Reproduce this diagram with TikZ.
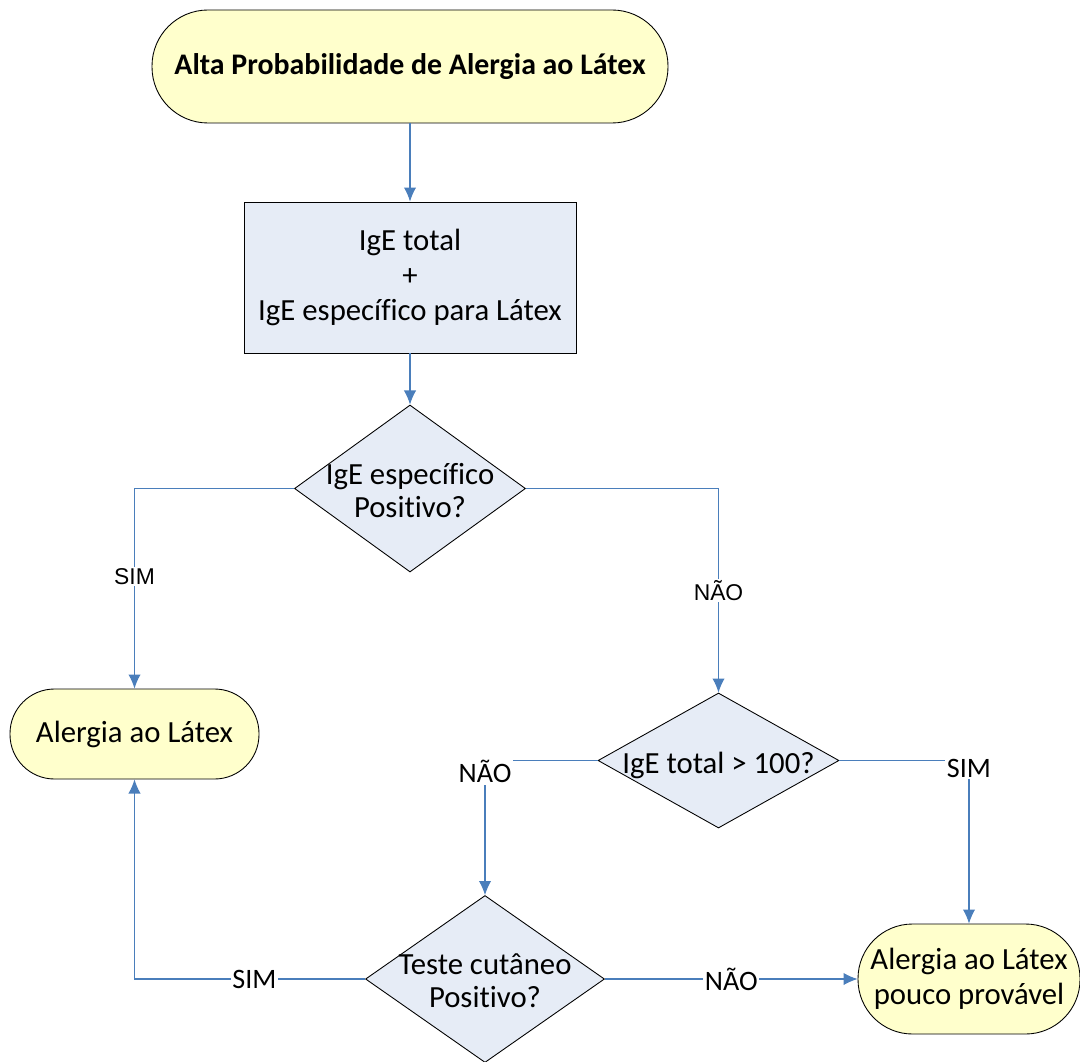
\documentclass[tikz,border=0pt]{standalone}
\usepackage{fontspec}
\setmainfont{Carlito}[Ligatures=NoCommon]
\newfontfamily\arialfont{Liberation Sans}
\usepackage{xcolor}
\usepackage{tikz}
\usetikzlibrary{arrows.meta}
\usetikzlibrary{shapes.geometric}
\definecolor{termfill}{RGB}{255,255,204}
\definecolor{procfill}{RGB}{230,236,246}
\definecolor{flowblue}{RGB}{74,126,187}

\begin{document}
\begin{tikzpicture}[
	terminal/.style={rectangle, draw=black, line width=0.5pt, fill=termfill, align=center, inner sep=0pt, font=\fontsize{17.5}{20}\selectfont},
	process/.style={rectangle, draw=black, line width=0.5pt, fill=procfill, align=center, inner sep=0pt, font=\fontsize{17.5}{20}\selectfont},
	decision/.style={diamond, draw=black, line width=0.5pt, fill=procfill, inner sep=0pt},
	qtext/.style={align=center, font=\fontsize{17.5}{19}\selectfont},
	flow/.style={draw=flowblue, line width=0.6pt, -{Latex[length=8pt,width=7pt]}},
	answer/.style={fill=white, inner sep=1pt, font=\fontsize{16}{19}\selectfont},
	answerA/.style={fill=white, inner sep=1pt, font=\arialfont\fontsize{13}{15}\selectfont}]
		\useasboundingbox (0,0) rectangle (21.6,-21.22);
		\node[terminal, minimum width=10.32cm, minimum height=2.26cm, rounded corners=1.12cm] (start) at (8.2,-1.33) {\fontsize{17}{20}\selectfont\bfseries Alta Probabilidade de Alergia ao Látex};
		\node[process, minimum width=6.64cm, minimum height=3.02cm] (exam) at (8.2,-5.55) {IgE total\\+\\IgE específico para Látex};
		\node[decision, minimum width=4.62cm, minimum height=3.34cm, label={[qtext, yshift=-0.04cm]center:{IgE específico\\Positivo?}}] (spec) at (8.2,-9.77) {};
		\node[terminal, minimum width=4.98cm, minimum height=1.8cm, rounded corners=0.89cm] (allergy) at (2.69,-14.68) {Alergia ao Látex};
		\node[decision, minimum width=4.82cm, minimum height=2.7cm, label={[qtext, yshift=-0.1cm]center:{IgE total > 100?}}] (total) at (14.37,-15.21) {};
		\node[decision, minimum width=4.78cm, minimum height=3.34cm, label={[qtext, yshift=-0.04cm]center:{Teste cutâneo\\Positivo?}}] (skin) at (9.7,-19.58) {};
		\node[terminal, minimum width=4.44cm, minimum height=2.2cm, rounded corners=1.09cm] (unlikely) at (19.38,-19.58) {Alergia ao Látex\\pouco provável};

		\draw[flow] (start) -- (exam);
		\draw[flow] (exam) -- (spec);
		\draw[flow] (spec.west) -| node[answerA, pos=0.72]{SIM} (allergy.north);
		\draw[flow] (spec.east) -| node[answerA, pos=0.75]{NÃO} (total.north);
		\draw[flow] (total.west) -| node[answer, pos=0.5, yshift=-0.22cm]{NÃO} (skin.north);
		\draw[flow] (total.east) -| node[answer, pos=0.5, yshift=-0.16cm]{SIM} (unlikely.north);
		\draw[flow] (skin.west) -| node[answer, pos=0.24]{SIM} (allergy.south);
		\draw[flow] (skin.east) -- node[answer]{NÃO} (unlikely.west);
\end{tikzpicture}
\end{document}
